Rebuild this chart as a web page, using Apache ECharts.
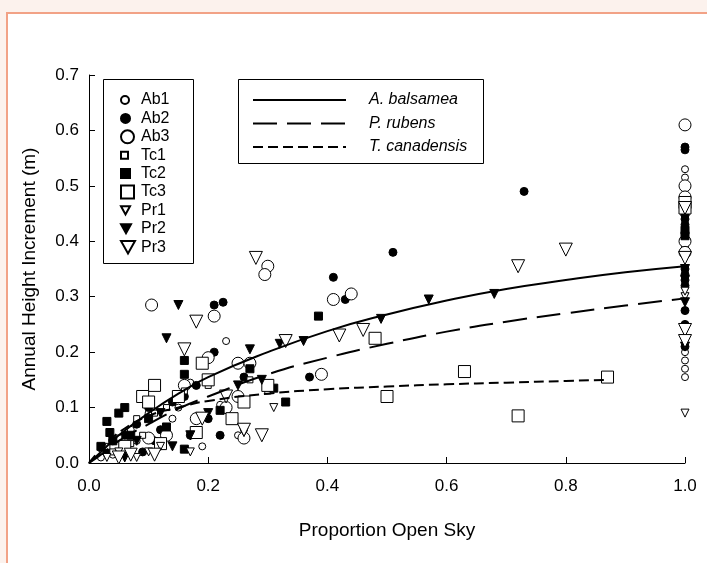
<!DOCTYPE html>
<html>
<head>
<meta charset="utf-8">
<script src="https://cdn.jsdelivr.net/npm/echarts@6/dist/echarts.min.js"></script>
<style>
html,body{margin:0;padding:0;background:#fcf2ed;}
#frame{position:absolute;left:6px;top:12px;width:701px;height:551px;background:#fff;border-left:2px solid #f2a286;border-top:2px solid #f2a286;box-sizing:border-box;}
#chart{position:absolute;left:0;top:0;width:707px;height:563px;}
</style>
</head>
<body>
<div id="frame"></div>
<div id="chart"></div>
<script>
// ---- data ----
var xTicks = [0.0, 0.2, 0.4, 0.6, 0.8, 1.0];
var yTicks = [0.0, 0.1, 0.2, 0.3, 0.4, 0.5, 0.6, 0.7];

var ab1 = [[0.23,0.22],[0.17,0.145],[0.19,0.03],[0.25,0.05],[0.12,0.06],[0.08,0.04],[0.04,0.015],[0.02,0.01],[0.06,0.03],[0.14,0.08],[0.10,0.09],[0.26,0.06],[0.22,0.105],[0.07,0.06],[0.15,0.10],
  [1.0,0.155],[1.0,0.17],[1.0,0.185],[1.0,0.20],[1.0,0.50],[1.0,0.515],[1.0,0.53],[1.0,0.39],[1.0,0.40]];
var ab2 = [[0.73,0.49],[0.51,0.38],[0.41,0.335],[0.43,0.295],[0.225,0.29],[0.21,0.285],[0.21,0.20],[0.37,0.155],[0.26,0.155],[0.18,0.14],[0.16,0.12],[0.20,0.08],[0.14,0.11],[0.10,0.10],[0.08,0.07],[0.06,0.05],[0.12,0.06],[0.04,0.04],[0.03,0.02],[0.22,0.05],[0.17,0.05],[0.11,0.04],[0.09,0.02],
  [1.0,0.57],[1.0,0.565],[1.0,0.44],[1.0,0.43],[1.0,0.35],[1.0,0.34],[1.0,0.33],[1.0,0.32],[1.0,0.25],[1.0,0.21],[1.0,0.275]];
var ab3 = [[0.105,0.285],[0.30,0.355],[0.295,0.34],[0.41,0.295],[0.44,0.305],[0.21,0.265],[0.20,0.19],[0.25,0.18],[0.27,0.18],[0.39,0.16],[0.25,0.12],[0.23,0.10],[0.18,0.08],[0.13,0.05],[0.26,0.045],[0.10,0.045],[0.16,0.14],
  [1.0,0.61],[1.0,0.50],[1.0,0.48],[1.0,0.40],[1.0,0.38]];
var tc1 = [[0.07,0.035],[0.05,0.045],[0.03,0.03],[0.09,0.05],[0.11,0.09],[0.13,0.10],[0.16,0.13],[0.08,0.08],[0.04,0.02],[0.06,0.025],[0.20,0.14],[0.27,0.15],[0.30,0.13],
  [1.0,0.47],[1.0,0.45]];
var tc2 = [[0.385,0.265],[0.16,0.185],[0.16,0.16],[0.05,0.09],[0.03,0.075],[0.06,0.10],[0.09,0.12],[0.07,0.05],[0.02,0.03],[0.04,0.04],[0.10,0.08],[0.13,0.065],[0.16,0.025],[0.31,0.135],[0.33,0.11],[0.27,0.17],[0.22,0.095],[0.035,0.055],
  [1.0,0.42],[1.0,0.41]];
var tc3 = [[0.87,0.155],[0.72,0.085],[0.63,0.165],[0.50,0.12],[0.48,0.225],[0.19,0.18],[0.11,0.14],[0.09,0.12],[0.15,0.12],[0.20,0.15],[0.30,0.14],[0.24,0.08],[0.18,0.055],[0.12,0.035],[0.06,0.03],[0.26,0.11],[0.10,0.11],
  [1.0,0.47],[1.0,0.46]];
var pr1 = [[0.17,0.02],[0.08,0.01],[0.03,0.01],[0.05,0.02],[0.10,0.02],[0.12,0.03],[0.26,0.055],[0.31,0.10],
  [1.0,0.09],[1.0,0.22],[1.0,0.30],[1.0,0.31]];
var pr2 = [[0.15,0.285],[0.13,0.225],[0.27,0.205],[0.49,0.26],[0.57,0.295],[0.68,0.305],[0.32,0.215],[0.36,0.22],[0.20,0.09],[0.17,0.05],[0.08,0.04],[0.06,0.01],[0.14,0.03],[0.29,0.15],[0.12,0.09],[0.25,0.14],
  [1.0,0.35],[1.0,0.33],[1.0,0.29],[1.0,0.21],[1.0,0.44]];
var pr3 = [[0.80,0.385],[0.72,0.355],[0.28,0.37],[0.18,0.255],[0.16,0.205],[0.42,0.23],[0.46,0.24],[0.33,0.22],[0.29,0.05],[0.26,0.06],[0.11,0.015],[0.07,0.015],[0.05,0.01],[0.19,0.08],[0.23,0.12],
  [1.0,0.37],[1.0,0.46],[1.0,0.24],[1.0,0.22]];

var curveX = [0, 0.02, 0.05, 0.1, 0.15, 0.2, 0.3, 0.4, 0.5, 0.6, 0.7, 0.8, 0.9, 1.0];
var balsameaY = [0, 0.02, 0.05, 0.09, 0.125, 0.155, 0.20, 0.238, 0.268, 0.293, 0.314, 0.33, 0.344, 0.355];
var rubensY = [0, 0.015, 0.04, 0.07, 0.098, 0.12, 0.16, 0.19, 0.215, 0.237, 0.255, 0.27, 0.284, 0.297];
var canadX = [0, 0.02, 0.05, 0.1, 0.15, 0.2, 0.3, 0.4, 0.5, 0.6, 0.7, 0.8, 0.87];
var canadY = [0, 0.025, 0.055, 0.085, 0.1, 0.112, 0.125, 0.133, 0.138, 0.142, 0.145, 0.148, 0.15];

var scatterNames = ['Ab1','Ab2','Ab3','Tc1','Tc2','Tc3','Pr1','Pr2','Pr3'];
var lineNames = ['A. balsamea','P. rubens','T. canadensis'];

// ---- build ----
function zip(xs, ys){ return xs.map(function(x,i){ return [x, ys[i]]; }); }
var TRI = 'path://M0,0L10,0L5,9Z';
var scatterDefs = [
  {data: ab1, symbol:'circle', size:7, fill:'#fff'},
  {data: ab2, symbol:'circle', size:8, fill:'#000'},
  {data: ab3, symbol:'circle', size:12, fill:'#fff'},
  {data: tc1, symbol:'rect', size:6, fill:'#fff'},
  {data: tc2, symbol:'rect', size:8, fill:'#000'},
  {data: tc3, symbol:'rect', size:12, fill:'#fff'},
  {data: pr1, symbol:TRI, size:8, fill:'#fff'},
  {data: pr2, symbol:TRI, size:9, fill:'#000'},
  {data: pr3, symbol:TRI, size:13, fill:'#fff'}
];
var series = [];
scatterDefs.forEach(function(d, i){
  series.push({
    type:'scatter', name: scatterNames[i], data: d.data, symbol: d.symbol, symbolSize: d.size,
    itemStyle:{color:d.fill, borderColor:'#000', borderWidth:1, opacity:1},
    z: 3
  });
});
var lineDefs = [
  {data: zip(curveX, balsameaY), type:'solid'},
  {data: zip(curveX, rubensY), type:[24,10]},
  {data: zip(canadX, canadY), type:[10,5]}
];
lineDefs.forEach(function(d, i){
  series.push({
    type:'line', name: lineNames[i], data: d.data, smooth: true, symbol:'none',
    lineStyle:{color:'#000', width:2, type:d.type}, itemStyle:{color:'#000'}, z: 4
  });
});

var legends = [];
scatterDefs.forEach(function(d, i){
  legends.push({
    data:[{name: scatterNames[i], icon: d.symbol}],
    left: 127 - 7, top: 100 - 8 + i * 18.4,
    orient:'vertical', padding:0, itemWidth: d.size + 1, itemHeight: d.size + 1,
    selectedMode:false,
    textStyle:{fontFamily:'Arial, "Liberation Sans"', fontSize:16, color:'#000', padding:[0,0,0,14 - d.size]}
  });
});
legends.push({
  data: lineNames.map(function(n){ return {name:n, itemStyle:{color:'rgba(0,0,0,0)', borderWidth:0, opacity:0}}; }),
  left: 252, top: 92, orient:'vertical', padding:0,
  itemWidth: 93, itemHeight: 14, itemGap: 7.5, selectedMode:false,
  textStyle:{fontFamily:'Arial, "Liberation Sans"', fontSize:16, fontStyle:'italic', color:'#000', padding:[0,0,0,18]}
});

var chart = echarts.init(document.getElementById('chart'), null, {renderer:'canvas'});
chart.setOption({
  backgroundColor:'transparent',
  animation:false,
  textStyle:{fontFamily:'Arial, "Liberation Sans"'},
  grid:{left:89, right:22, top:75, bottom:100, containLabel:false},
  xAxis:{
    type:'value', min:0, max:1, interval:0.2,
    name:'Proportion Open Sky', nameLocation:'middle', nameGap:58,
    nameTextStyle:{fontSize:19, color:'#000', fontFamily:'Arial, "Liberation Sans"'},
    axisLine:{lineStyle:{color:'#000', width:1}},
    axisTick:{inside:true, length:6, lineStyle:{color:'#000'}},
    axisLabel:{fontSize:17, color:'#000', margin:15, formatter:function(v){return v.toFixed(1);}},
    splitLine:{show:false}
  },
  yAxis:{
    type:'value', min:0, max:0.7, interval:0.1,
    name:'Annual Height Increment (m)', nameLocation:'middle', nameGap:50,
    nameTextStyle:{fontSize:19, color:'#000', fontFamily:'Arial, "Liberation Sans"'},
    axisLine:{show:true, lineStyle:{color:'#000', width:1}},
    axisTick:{show:true, inside:true, length:6, lineStyle:{color:'#000'}},
    axisLabel:{fontSize:17, color:'#000', margin:10, formatter:function(v){return v.toFixed(1);}},
    splitLine:{show:false}
  },
  legend: legends,
  graphic:[
    {type:'rect', shape:{x:103.5, y:79.5, width:90, height:184}, style:{fill:'#fff', stroke:'#000', lineWidth:1}, z:-1, silent:true},
    {type:'rect', shape:{x:238.5, y:79.5, width:245, height:84}, style:{fill:'#fff', stroke:'#000', lineWidth:1}, z:-1, silent:true}
  ],
  series: series
});
</script>
</body>
</html>
